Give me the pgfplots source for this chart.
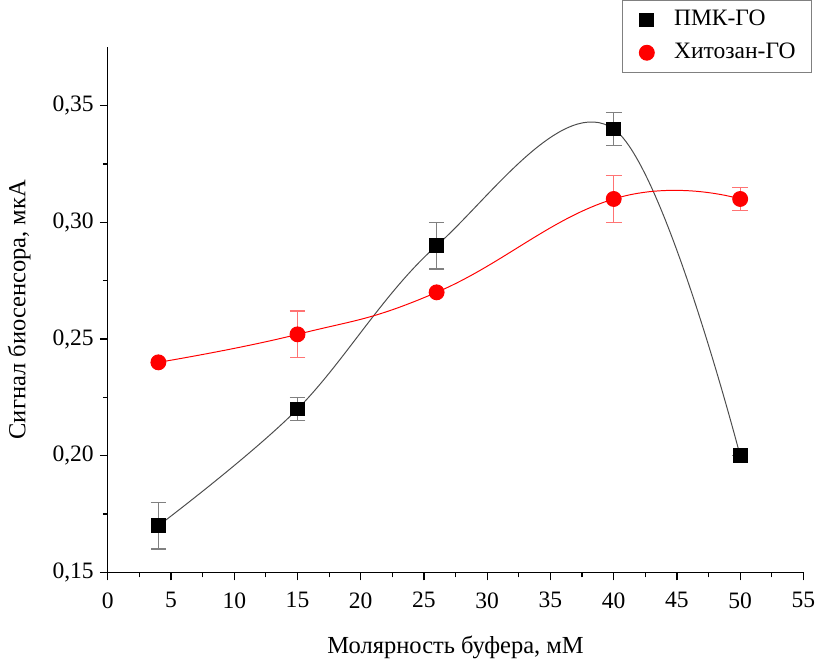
\documentclass[border=0pt]{standalone}
\usepackage{fontspec}
\setmainfont{Liberation Serif}
\usepackage{pgfplots}
\pgfplotsset{compat=1.18}
\begin{document}
\fontsize{12}{14}\selectfont
\begin{tikzpicture}
\begin{axis}[
    scale only axis,
    width=355pt,
    height=268pt,
    axis lines=left,
    axis line style={-, line width=0.7pt},
    xmin=0, xmax=55,
    ymin=0.15, ymax=0.375,
    xtick={0,5,...,55},
    ytick={0.15,0.20,0.25,0.30,0.35},
    minor x tick num=1,
    minor y tick num=1,
    tick align=outside,
    major tick length=4pt,
    minor tick length=2.5pt,
    tick style={line width=0.6pt, black},
    tick label style={font=\fontsize{12}{14}\selectfont},
    label style={font=\fontsize{12.5}{14}\selectfont},
    /pgf/number format/assume math mode=true,
    yticklabel style={xshift=1pt, /pgf/number format/.cd, fixed, fixed zerofill, precision=2, use comma},
    xlabel={Молярность буфера, мМ},
    ylabel={Сигнал биосенсора, мкА},
    xticklabel style={yshift=-2pt},
    xlabel style={yshift=-6pt},
    ylabel style={yshift=3pt},
    clip=false,
    legend style={at={(rel axis cs:1.012,1.09)}, anchor=north east, draw=gray, line width=0.6pt,
        inner xsep=6pt, inner ysep=3pt, row sep=3pt, font=\fontsize{12}{14}\selectfont},
    legend cell align=left,
    legend image code/.code={\path (0cm,0cm) (0.63cm,0cm); \draw[only marks] plot coordinates {(0.22cm,0cm)};},
]
\addplot[black!70, line width=0.5pt, smooth, tension=0.6,
    mark=square*, mark size=3.5pt, mark options={black, fill=black},
    error bars/.cd, y dir=both, y explicit,
    error bar style={gray, line width=0.6pt},
    error mark options={gray, rotate=90, mark size=4pt, line width=0.6pt}]
    coordinates {
    (4,0.17) +- (0,0.010)
    (15,0.22) +- (0,0.005)
    (26,0.29) +- (0,0.010)
    (40,0.34) +- (0,0.007)
    (50,0.20) +- (0,0.0)
};
\addlegendentry{ПМК-ГО}
\addplot[red, line width=0.5pt, smooth, tension=0.75,
    mark=*, mark size=3.8pt, mark options={red, fill=red},
    error bars/.cd, y dir=both, y explicit,
    error bar style={red!55, line width=0.6pt},
    error mark options={red!55, rotate=90, mark size=4pt, line width=0.6pt}]
    coordinates {
    (4,0.240) +- (0,0.0)
    (15,0.252) +- (0,0.010)
    (26,0.270) +- (0,0.0)
    (40,0.310) +- (0,0.010)
    (50,0.310) +- (0,0.005)
};
\addlegendentry{Хитозан-ГО}
\end{axis}
\end{tikzpicture}
\end{document}
